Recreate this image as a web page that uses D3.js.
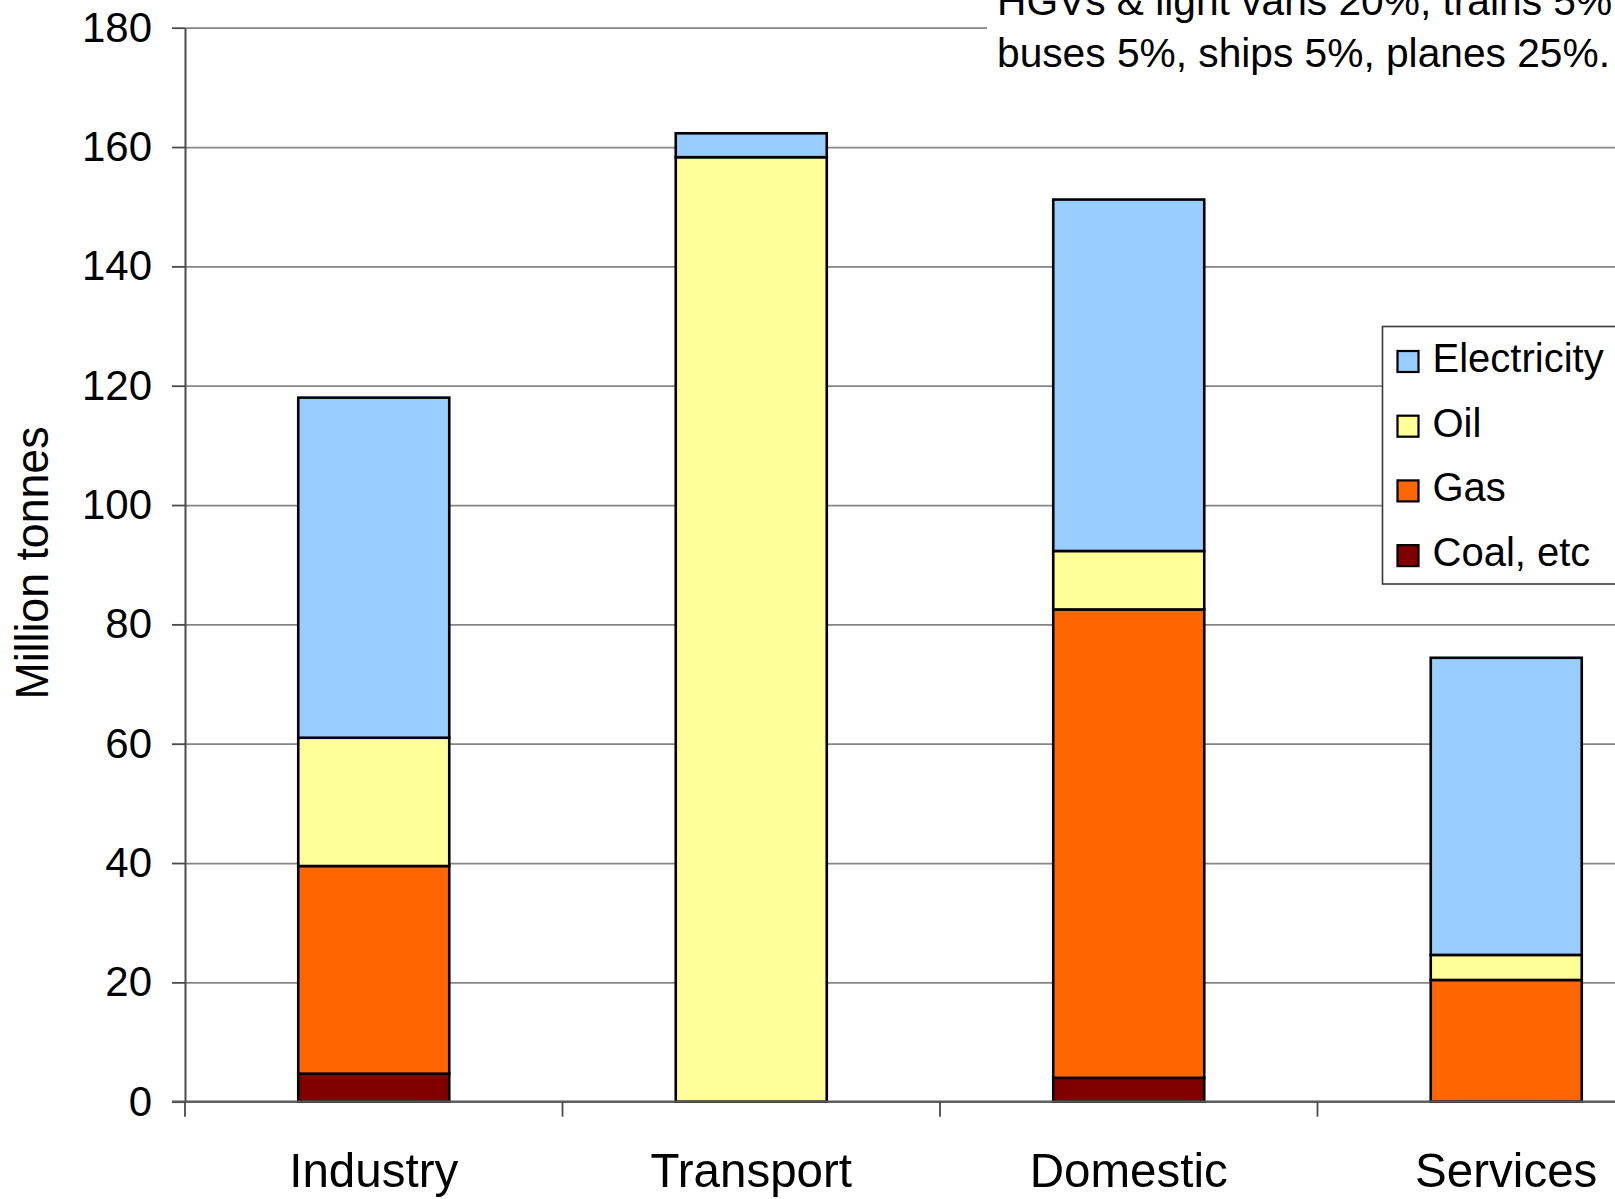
<!DOCTYPE html>
<html>
<head>
<meta charset="utf-8">
<script src="https://cdn.jsdelivr.net/npm/d3@7"></script>
<style>
  html, body { margin: 0; padding: 0; background: #fff; overflow: hidden; }
  svg { display: block; font-family: "Liberation Sans", Arial, sans-serif; }
</style>
</head>
<body>
<svg id="chart" width="1615" height="1199"></svg>
<script>
// Emissions by end-use sector, split by fuel (million tonnes)
const categories = ["Industry", "Transport", "Domestic", "Services"];
const seriesNames = ["Coal, etc", "Gas", "Oil", "Electricity"];
const coal        = [4.7, 0, 4.0, 0];
const gas         = [34.8, 0, 78.5, 20.4];
const oil         = [21.5, 158.3, 9.8, 4.2];
const electricity = [57.0, 4.0, 58.9, 49.8];
const yTicks = [0, 20, 40, 60, 80, 100, 120, 140, 160, 180];
const legendOrder = ["Electricity", "Oil", "Gas", "Coal, etc"];
const fuelColors = ["#800000", "#FF6600", "#FFFF99", "#99CCFF"];
const noteLines = ["HGVs & light vans 20%, trains 5%,", "buses 5%, ships 5%, planes 25%."];
const yTitle = "Million tonnes";

const rows = categories.map((c, i) => ({
  category: c,
  "Coal, etc": coal[i],
  "Gas": gas[i],
  "Oil": oil[i],
  "Electricity": electricity[i]
}));

const svg = d3.select("#chart");
const W = 1615, H = 1199;
const plotLeft = 185, plotTop = 27.7, plotBottom = 1101.7;
const plotRight = 1695;

svg.append("rect").attr("width", W).attr("height", H).attr("fill", "#fff");

const y = d3.scaleLinear().domain([0, 180]).range([plotBottom, plotTop]);
const x = d3.scaleBand().domain(categories).range([plotLeft, plotRight])
  .paddingInner(0.6).paddingOuter(0.3);
const color = d3.scaleOrdinal().domain(seriesNames).range(fuelColors);

// horizontal gridlines
const grid = svg.append("g").attr("transform", `translate(${plotLeft},0)`)
  .call(d3.axisLeft(y).tickValues(yTicks).tickSize(-(plotRight - plotLeft)).tickFormat(""));
grid.select(".domain").remove();
grid.selectAll("line").attr("stroke", "#868686").attr("stroke-width", 1.8);

// stacked bars
const stacked = d3.stack().keys(seriesNames)(rows);
svg.append("g").selectAll("g").data(stacked).join("g")
  .attr("fill", d => color(d.key))
  .selectAll("rect").data(d => d.filter(s => s[1] - s[0] > 0)).join("rect")
  .attr("x", d => x(d.data.category))
  .attr("width", x.bandwidth())
  .attr("y", d => y(d[1]))
  .attr("height", d => y(d[0]) - y(d[1]))
  .attr("stroke", "#000")
  .attr("stroke-width", 2.6);

// y axis with tick labels
const yAxis = svg.append("g").attr("transform", `translate(${plotLeft},0)`)
  .call(d3.axisLeft(y).tickValues(yTicks).tickSize(13).tickPadding(20).tickSizeOuter(0));
yAxis.select(".domain").attr("stroke", "#4a4a4a").attr("stroke-width", 2);
yAxis.selectAll(".tick line").attr("stroke", "#4a4a4a").attr("stroke-width", 1.8);
yAxis.selectAll(".tick text")
  .attr("fill", "#000")
  .style("font-size", "42px")
  .style("font-family", "'Liberation Sans', Arial, sans-serif");

// baseline and category separators
svg.append("line")
  .attr("x1", plotLeft - 13).attr("x2", W)
  .attr("y1", y(0)).attr("y2", y(0))
  .attr("stroke", "#5a5a5a").attr("stroke-width", 2.2);
const bounds = d3.range(categories.length + 1).map(i => plotLeft + i * x.step());
svg.append("g").selectAll("line").data(bounds).join("line")
  .attr("x1", d => d).attr("x2", d => d)
  .attr("y1", y(0)).attr("y2", y(0) + 15)
  .attr("stroke", "#4a4a4a").attr("stroke-width", 1.8);

// category labels
const xAxis = svg.append("g").attr("transform", `translate(0,${y(0)})`)
  .call(d3.axisBottom(x).tickSize(0).tickPadding(51));
xAxis.select(".domain").remove();
xAxis.selectAll(".tick text")
  .attr("fill", "#000")
  .style("font-size", "49px")
  .style("font-family", "'Liberation Sans', Arial, sans-serif")
  .each(function () {
    const len = this.getComputedTextLength();
    d3.select(this).attr("textLength", len * 0.97).attr("lengthAdjust", "spacingAndGlyphs");
  });

// y axis title
const yt = svg.append("text")
  .attr("transform", "translate(48,563) rotate(-90)")
  .attr("text-anchor", "middle")
  .style("font-size", "47px")
  .text(yTitle);
yt.attr("textLength", yt.node().getComputedTextLength() * 0.95).attr("lengthAdjust", "spacingAndGlyphs");

// note box in the upper right
svg.append("rect").attr("x", 987).attr("y", 0).attr("width", W - 987).attr("height", 92).attr("fill", "#fff");
svg.append("g").selectAll("text").data(noteLines).join("text")
  .attr("x", 997)
  .attr("y", (d, i) => 15 + i * 51.5)
  .style("font-size", "40.7px")
  .text(d => d);

// legend
const lg = svg.append("g");
lg.append("rect")
  .attr("x", 1382.5).attr("y", 326.5).attr("width", 300).attr("height", 257.5)
  .attr("fill", "#fff").attr("stroke", "#3a3a3a").attr("stroke-width", 1.6);
const items = lg.selectAll("g.item").data(legendOrder).join("g")
  .attr("class", "item")
  .attr("transform", (d, i) => `translate(1397.5,${361.5 + i * 64.7})`);
items.append("rect")
  .attr("x", 0).attr("y", -10.5).attr("width", 21).attr("height", 21)
  .attr("fill", d => color(d)).attr("stroke", "#000").attr("stroke-width", 2.2);
items.append("text")
  .attr("x", 35).attr("y", 10.5)
  .style("font-size", "40px")
  .text(d => d);
</script>
</body>
</html>
